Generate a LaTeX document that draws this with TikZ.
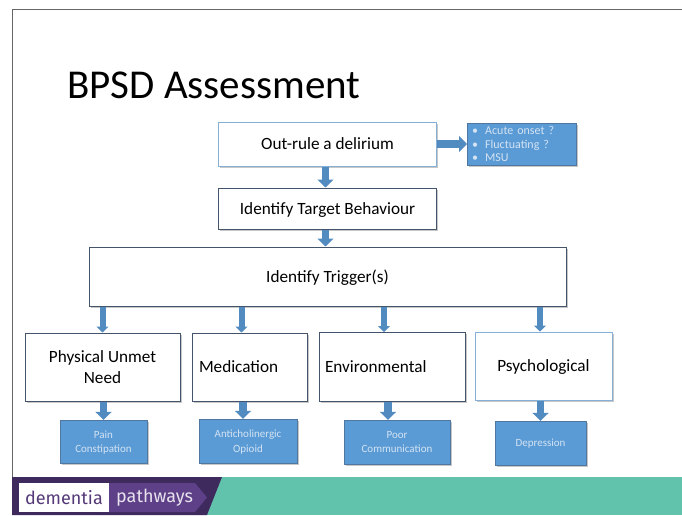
\documentclass[tikz,border=0pt]{standalone}
\usepackage{fontspec}
\setmainfont{Carlito}
\newfontfamily\logofont{Fira Sans}
\usetikzlibrary{arrows.meta,positioning,shadows}
\definecolor{slate}{HTML}{44546A}
\definecolor{paleblue}{HTML}{86AFD6}
\definecolor{flowblue}{HTML}{5B9BD5}
\definecolor{leaftext}{HTML}{D3E3F3}
\definecolor{teal}{HTML}{62C3AD}
\definecolor{darkplum}{HTML}{3F2A5E}
\definecolor{plum}{HTML}{5E4088}
\tikzset{node distance=11pt, % Gap between boxes in a row
        softshadow/.style={
            drop shadow={shadow xshift=1.5pt,shadow yshift=-1.5pt,fill=black,opacity=.22}},
        stepbox/.style={ % White boxes with a dark edge
            draw=slate,
            line width=1pt,
            fill=white,
            softshadow,
            inner sep=0pt,
            text depth=0pt,
            align=center,
            font=\fontsize{17.2}{21}\selectfont},
        palebox/.style={ % Same box with a light edge
            stepbox,
            draw=paleblue},
        leafbox/.style={ % Filled boxes of the lowest row
            draw=slate!50!flowblue,
            fill=flowblue,
            softshadow,
            inner sep=0pt,
            text depth=0pt,
            align=center,
            text=leaftext,
            font=\fontsize{11}{14.5}\selectfont},
        flow/.style={ % Block arrows
            draw=flowblue!90!black,
            line width=7.5pt,
            -{Triangle[length=8pt,width=16pt]}},
        thinflow/.style={
            flow,
            line width=6pt,
            -{Triangle[length=6pt,width=12pt]}}
        }

\begin{document}
\begin{tikzpicture}[x=1pt,y=-1pt]
    \useasboundingbox (0,0) rectangle (682,515);

    % Slide frame and footer
    \draw[gray!80!black, line width=1pt] (682,9) -- (12,9) -- (12,515);
    \fill[teal] (207,477) rectangle (682,515);
    \fill[darkplum] (12,477) -- (222,477) -- (207,515) -- (12,515) -- cycle;
    \fill[plum] (100,483) -- (195,483) -- (207,497.5) -- (195,512) -- (100,512) -- cycle;
    \node[fill=white, minimum width=90pt, minimum height=29pt, inner sep=0pt, text=plum!90!black, font=\logofont\fontsize{18}{20}\selectfont] (dementia) at (64,497.5) {dementia};
    \node[text=white!85!plum, anchor=west, inner sep=0pt, font=\logofont\fontsize{18}{20}\selectfont] (pathways) at (116,497.5) {pathways};

    \node[inner sep=0pt, anchor=base west, font=\fontsize{41}{44}\selectfont] (title) at (67,98) {BPSD Assessment};

    \node[palebox, minimum width=218pt, minimum height=44pt] (delirium) at (327.5,144) {Out-rule a delirium};
    \node[stepbox, minimum width=218pt, minimum height=41pt] (target) [below=21pt of delirium] {Identify Target Behaviour};
    \node[stepbox, minimum width=477pt, minimum height=59pt] (trigger) at (327.5,276.5) {Identify Trigger(s)};
    \node[leafbox, text depth=, minimum width=109pt, minimum height=42pt, anchor=west, text width=99pt, align=left, font=\fontsize{12}{13.5}\selectfont] (checks) [right=30pt of delirium] {\textbullet\hspace{7pt}Acute onset ?\\\textbullet\hspace{7pt}Fluctuating ?\\\textbullet\hspace{7pt}MSU};

    \node[stepbox, minimum width=155pt, minimum height=68pt] (physical) at (102.5,367) {Physical Unmet\\Need};
    \node[stepbox, minimum width=115pt, minimum height=68pt, text width=101pt, align=left] (medication) [right=of physical] {Medication};
    \node[stepbox, minimum width=146pt, minimum height=69pt, text width=134pt, align=left] (environmental) [right=of medication] {Environmental};
    \node[palebox, minimum width=137pt, minimum height=68pt] (psychological) [right=9pt of environmental, yshift=1pt] {Psychological};

    \node[leafbox, minimum width=87pt, minimum height=43pt] (pain) at (103.5,441.5) {Pain\\Constipation};
    \node[leafbox, minimum width=98pt, minimum height=44pt] (opioid) at (248,441) {Anticholinergic\\Opioid};
    \node[leafbox, minimum width=106pt, minimum height=44pt] (communication) at (397,442) {Poor\\Communication};
    \node[leafbox, minimum width=91pt, minimum height=44pt] (depression) at (540.5,443) {Depression};

    \draw[flow] (delirium) -- (checks);
    \draw[flow] ([xshift=-2pt]delirium.south) -- ([xshift=-2pt]target.north);
    \draw[flow] ([xshift=-2pt]target.south) -- ([xshift=-2pt]trigger.north);

    \draw[thinflow] (physical.north |- trigger.south) -- (physical.north);
    \draw[thinflow] ([xshift=-8pt]medication.north |- trigger.south) -- ([xshift=-8pt]medication.north);
    \draw[thinflow] ([xshift=-8pt]environmental.north |- trigger.south) -- ([xshift=-8pt]environmental.north);
    \draw[thinflow] ([xshift=-3.5pt]psychological.north |- trigger.south) -- ([xshift=-3.5pt]psychological.north);

    \draw[flow] (pain.north |- physical.south) -- (pain.north);
    \draw[flow] ([xshift=-5pt]opioid.north |- medication.south) -- ([xshift=-5pt]opioid.north);
    \draw[flow] ([xshift=-9pt]communication.north |- environmental.south) -- ([xshift=-9pt]communication.north);
    \draw[flow] (depression.north |- psychological.south) -- (depression.north);
\end{tikzpicture}
\end{document}
